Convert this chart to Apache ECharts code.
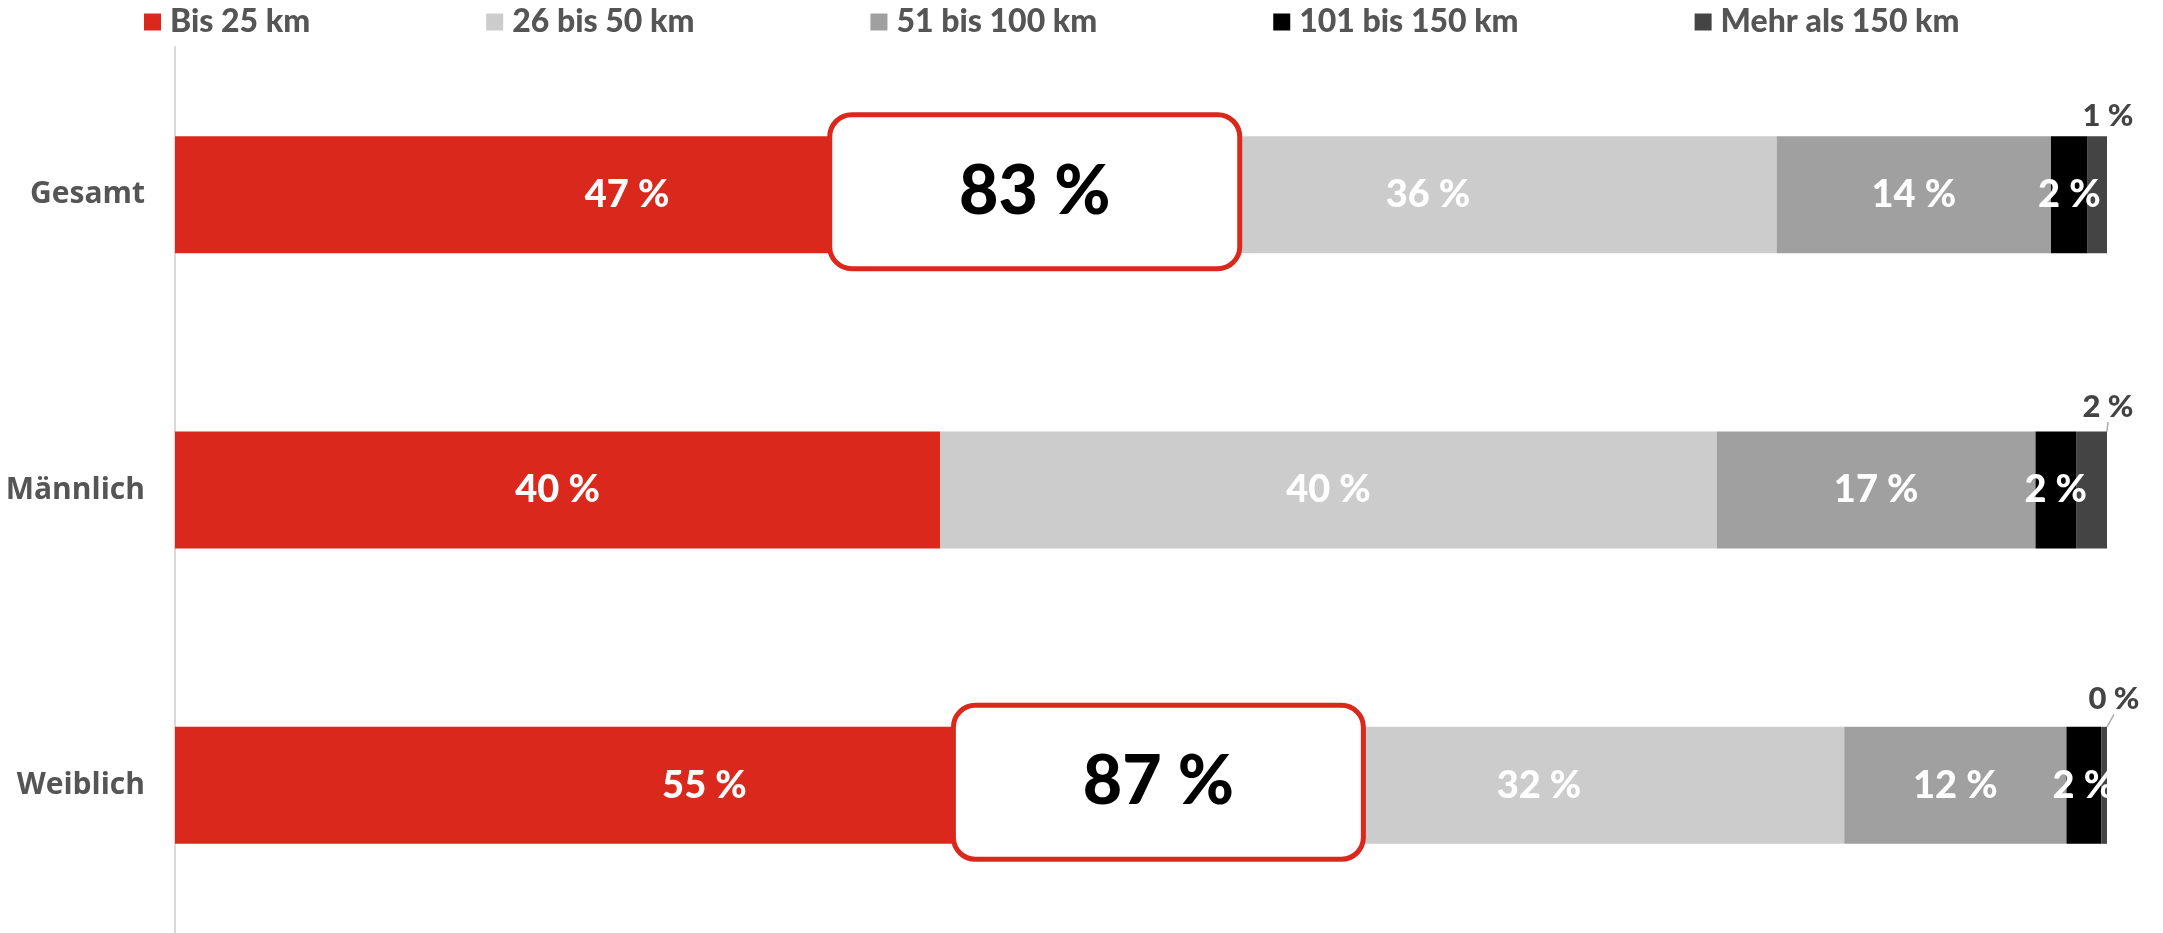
<!DOCTYPE html>
<html>
<head>
<meta charset="utf-8">
<script src="https://cdn.jsdelivr.net/npm/echarts@6/dist/echarts.min.js"></script>
<style>
  html, body { margin: 0; padding: 0; background: #fff; }
  #main { width: 2163px; height: 933px; }
</style>
</head>
<body>
<div id="main"></div>
<script>
var categories = ['Gesamt', 'Männlich', 'Weiblich'];
var bis25 = [46.8, 39.6, 54.8];
var bis50 = [36.1, 40.2, 31.6];
var bis100 = [14.2, 16.5, 11.5];
var bis150 = [1.9, 2.1, 1.8];
var mehr150 = [1.0, 1.6, 0.3];
// Anteil bis 50 km (Kasten)
var bis50Summe = [83, null, 87];

var RED = '#da291c';
var FONT = 'Lato, "Noto Sans", sans-serif';

function pct(p){
	return Math.round(p.value) + ' %';
}

function barSeries(name, data, color, labelExtra){
	var s = {
		name: name,
		type: 'bar',
		stack: 'km',
		barWidth: 117,
		data: data,
		itemStyle: {color: color},
		label: {
			show: true,
			position: 'inside',
			formatter: pct,
			color: '#fff',
			fontFamily: FONT,
			fontWeight: 900,
			fontSize: 38
		},
		emphasis: {disabled: true}
	};
	if(labelExtra){
		for(var k in labelExtra){ s.label[k] = labelExtra[k]; }
	}
	return s;
}

var myChart = echarts.init(document.getElementById('main'));
var dark = barSeries('Mehr als 150 km', mehr150.map(function(v, i){
	return {value: v, labelLine: {show: i > 0}};
}), '#444444', {
	position: 'top',
	color: '#444',
	fontSize: 31
});
dark.labelLine = {lineStyle: {color: '#aaa', width: 1.5}};
var topLift = [20, 25, 28];
dark.labelLayout = function(params){
	var r = params.rect;
	return {
		x: r.x + r.width + (params.dataIndex == 2 ? 7 : 1),
		y: r.y - topLift[params.dataIndex],
		align: 'center',
		verticalAlign: 'middle'
	};
};

var option = {
	animation: false,
	legend: {
		data: ['Bis 25 km', '26 bis 50 km', '51 bis 100 km', '101 bis 150 km', 'Mehr als 150 km'],
		left: 144,
		top: 6,
		padding: 0,
		icon: 'rect',
		itemWidth: 17,
		itemHeight: 17,
		itemGap: 176,
		textStyle: {
			color: '#555',
			fontFamily: FONT,
			fontWeight: 900,
			fontSize: 32,
			padding: [0, 0, 0, 4]
		}
	},
	grid: {left: 175, right: 56, top: 47, height: 888},
	xAxis: {type: 'value', min: 0, max: 100, show: false},
	yAxis: {
		type: 'category',
		inverse: true,
		data: categories,
		axisTick: {show: false},
		axisLine: {show: true, lineStyle: {color: '#d9d9d9', width: 2}},
		axisLabel: {
			margin: 30,
			color: '#555',
			fontFamily: '"Open Sans", sans-serif',
			fontWeight: 'bold',
			fontSize: 30
		}
	},
	series: [
		barSeries('Bis 25 km', bis25, RED),
		barSeries('26 bis 50 km', bis50, '#cccccc'),
		barSeries('51 bis 100 km', bis100, '#a0a0a0'),
		barSeries('101 bis 150 km', bis150, '#000000'),
		dark,
		{
			type: 'custom',
			name: 'summe',
			data: [[44.5, 0], [50.9, 2]],
			z: 10,
			renderItem: function(params, api){
				var p = api.coord([api.value(0), api.value(1)]);
				var idx = api.value(1);
				var w = 410, h = 154;
				return {
					type: 'group',
					children: [
						{type: 'rect', shape: {x: p[0] - w/2, y: p[1] - h/2 - 3, width: w, height: h, r: 22},
							style: {fill: '#fff', stroke: RED, lineWidth: 5}},
						{type: 'text', style: {text: bis50Summe[idx] + ' %', x: p[0], y: p[1] - 3,
							align: 'center', verticalAlign: 'middle', fill: '#000',
							font: '900 68px ' + FONT}}
					]
				};
			}
		}
	]
};
myChart.setOption(option);
</script>
</body>
</html>
